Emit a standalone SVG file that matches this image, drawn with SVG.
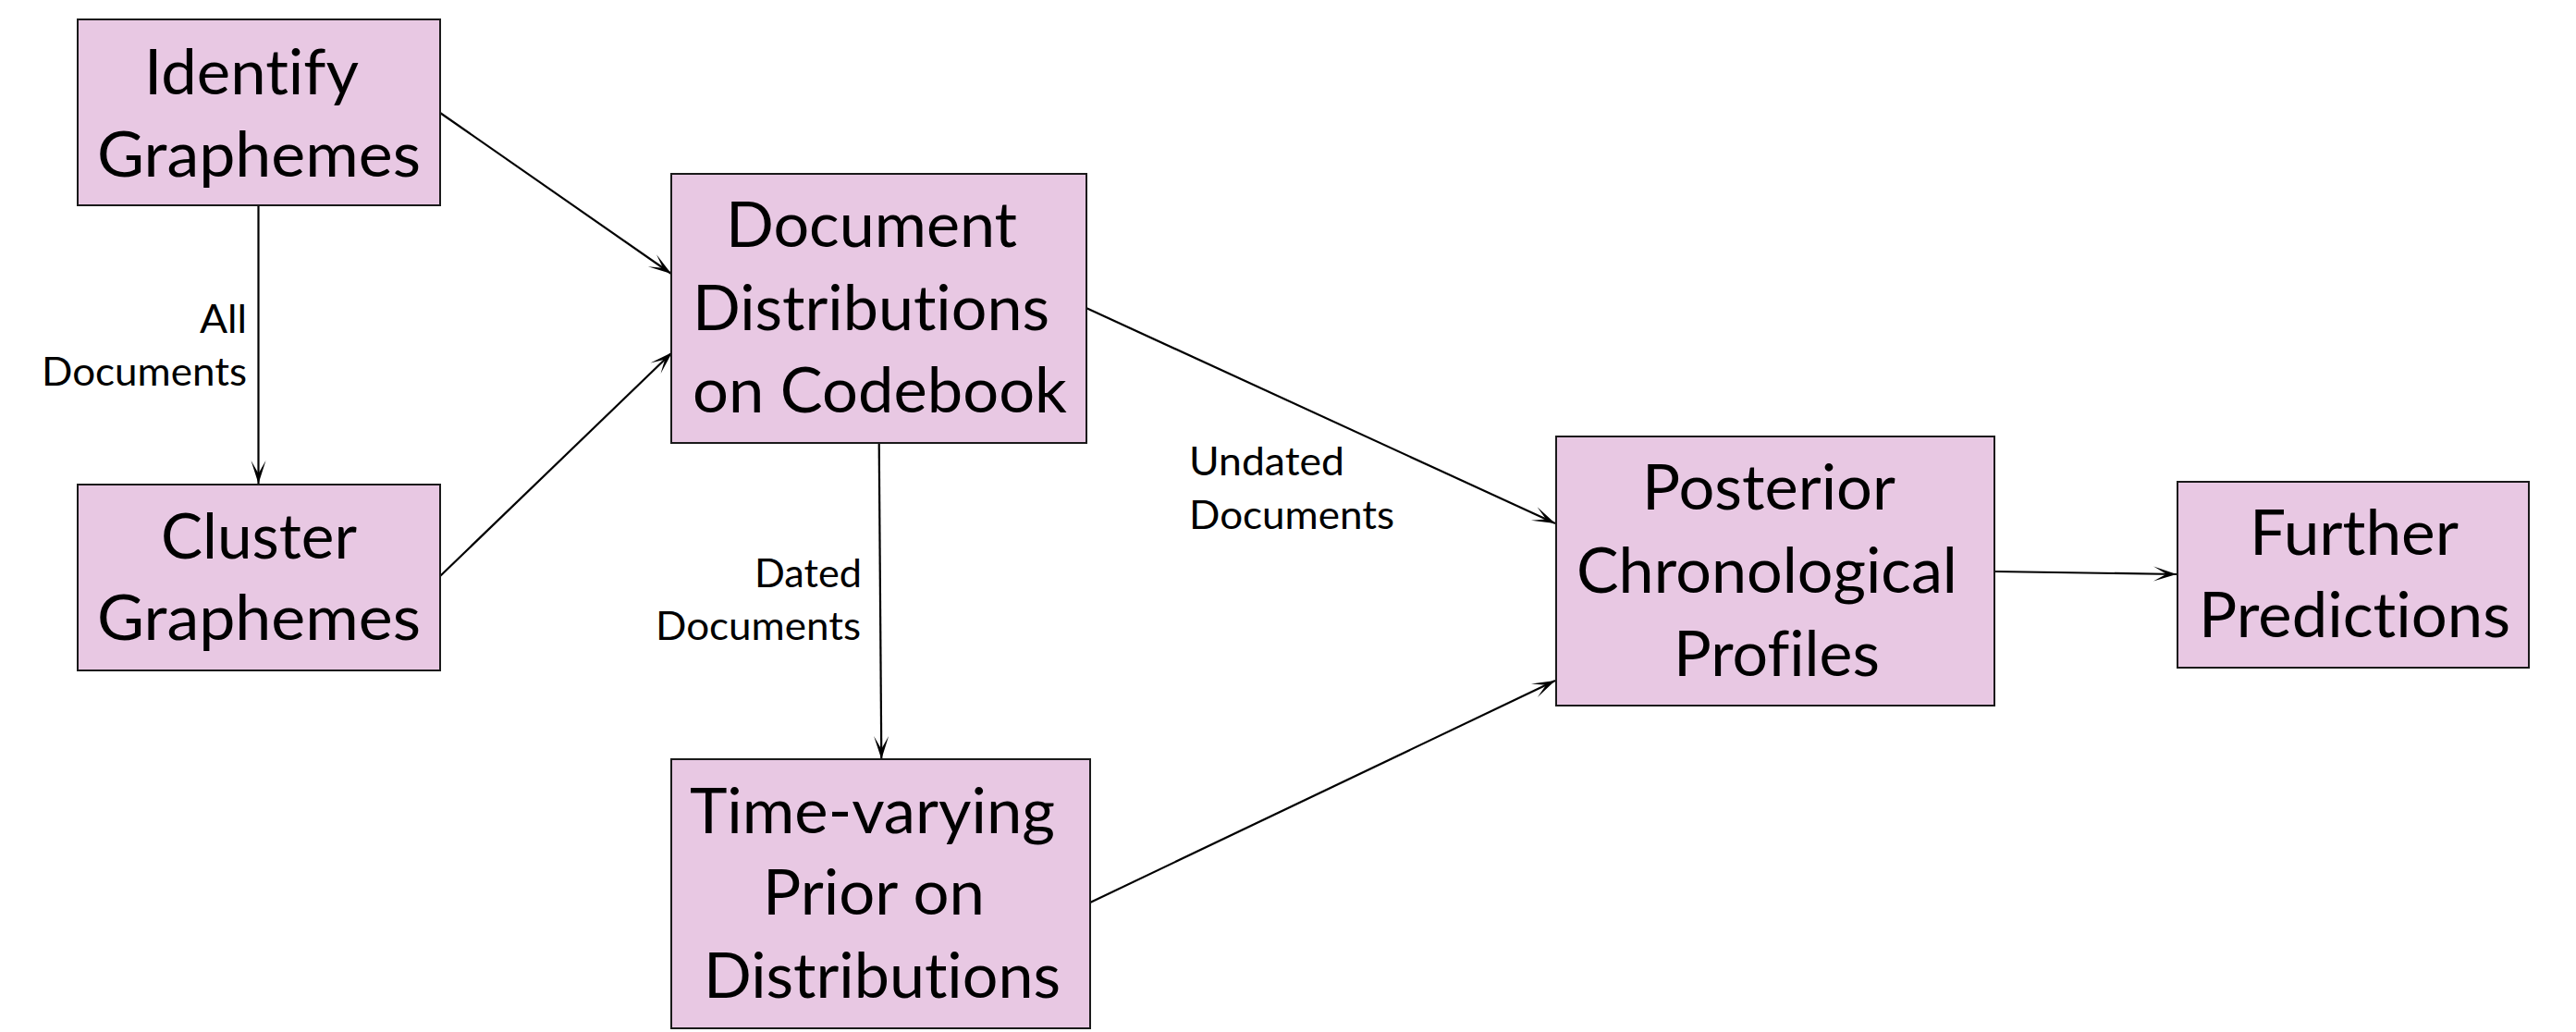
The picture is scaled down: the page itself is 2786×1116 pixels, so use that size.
<svg xmlns="http://www.w3.org/2000/svg" width="2786" height="1116" viewBox="0 0 2786 1116">
  <style>
    .box { fill: #E8C8E3; stroke: #1a1a1a; stroke-width: 2; }
    .t { font-family: Lato, "Open Sans", "Liberation Sans", sans-serif; font-size: 68px; fill: #000; font-variant-ligatures: none; font-feature-settings: "liga" 0, "clig" 0; }
    .lbl { font-family: Lato, "Open Sans", "Liberation Sans", sans-serif; font-size: 43px; fill: #000; font-variant-ligatures: none; font-feature-settings: "liga" 0, "clig" 0; }
    .edge { fill: none; stroke: #000; stroke-width: 2.2; }
  </style>
  <defs>
    <marker id="arr" markerUnits="userSpaceOnUse" markerWidth="40" markerHeight="40" refX="0" refY="0" orient="auto" overflow="visible" viewBox="-30 -15 40 30">
      <path d="M0,0 L-25,-8 L-11,0 L-25,8 Z" fill="#000"/>
    </marker>
  </defs>
  <rect width="2786" height="1116" fill="#fff"/>

  <g id="connectors">
    <line class="edge" x1="279.5" y1="222" x2="279.5" y2="523" marker-end="url(#arr)"/>
    <line class="edge" x1="476" y1="122" x2="726" y2="296" marker-end="url(#arr)"/>
    <line class="edge" x1="476" y1="623" x2="727" y2="381" marker-end="url(#arr)"/>
    <line class="edge" x1="950.7" y1="479" x2="953.3" y2="821" marker-end="url(#arr)"/>
    <line class="edge" x1="1174.7" y1="333" x2="1682" y2="566" marker-end="url(#arr)"/>
    <line class="edge" x1="1179" y1="976" x2="1682" y2="736" marker-end="url(#arr)"/>
    <line class="edge" x1="2157" y1="618" x2="2354" y2="621" marker-end="url(#arr)"/>
    <g id="edge-labels">
      <text class="lbl" x="216" y="360" textLength="51" lengthAdjust="spacingAndGlyphs">All</text>
      <text class="lbl" x="45" y="417" textLength="222" lengthAdjust="spacingAndGlyphs">Documents</text>
      <text class="lbl" x="816" y="635" textLength="116" lengthAdjust="spacingAndGlyphs">Dated</text>
      <text class="lbl" x="709" y="692" textLength="222" lengthAdjust="spacingAndGlyphs">Documents</text>
      <text class="lbl" x="1286" y="514" textLength="168" lengthAdjust="spacingAndGlyphs">Undated</text>
      <text class="lbl" x="1286" y="572" textLength="222" lengthAdjust="spacingAndGlyphs">Documents</text>
    </g>
  </g>

  <g id="identify">
    <rect class="box" x="84" y="21" width="392" height="201"/>
    <text class="t" x="156" y="102" textLength="232" lengthAdjust="spacingAndGlyphs">Identify</text>
    <text class="t" x="105" y="191" textLength="350" lengthAdjust="spacingAndGlyphs">Graphemes</text>
  </g>
  <g id="cluster">
    <rect class="box" x="84" y="524" width="392" height="201"/>
    <text class="t" x="174" y="604" textLength="212" lengthAdjust="spacingAndGlyphs">Cluster</text>
    <text class="t" x="105" y="692" textLength="350" lengthAdjust="spacingAndGlyphs">Graphemes</text>
  </g>
  <g id="docdist">
    <rect class="box" x="726" y="188" width="449" height="291"/>
    <text class="t" x="785" y="267" textLength="315" lengthAdjust="spacingAndGlyphs">Document</text>
    <text class="t" x="749" y="357" textLength="386" lengthAdjust="spacingAndGlyphs">Distributions</text>
    <text class="t" x="749" y="446" textLength="405" lengthAdjust="spacingAndGlyphs">on Codebook</text>
  </g>
  <g id="timeprior">
    <rect class="box" x="726" y="821" width="453" height="291"/>
    <text class="t" x="746" y="901" textLength="395" lengthAdjust="spacingAndGlyphs">Time-varying</text>
    <text class="t" x="825" y="989" textLength="240" lengthAdjust="spacingAndGlyphs">Prior on</text>
    <text class="t" x="761" y="1079" textLength="386" lengthAdjust="spacingAndGlyphs">Distributions</text>
  </g>
  <g id="posterior">
    <rect class="box" x="1683" y="472" width="474" height="291"/>
    <text class="t" x="1776" y="551" textLength="274" lengthAdjust="spacingAndGlyphs">Posterior</text>
    <text class="t" x="1705" y="641" textLength="412" lengthAdjust="spacingAndGlyphs">Chronological</text>
    <text class="t" x="1810" y="731" textLength="223" lengthAdjust="spacingAndGlyphs">Profiles</text>
  </g>
  <g id="further">
    <rect class="box" x="2355" y="521" width="380" height="201"/>
    <text class="t" x="2433" y="600" textLength="226" lengthAdjust="spacingAndGlyphs">Further</text>
    <text class="t" x="2378" y="689" textLength="337" lengthAdjust="spacingAndGlyphs">Predictions</text>
  </g>
</svg>
